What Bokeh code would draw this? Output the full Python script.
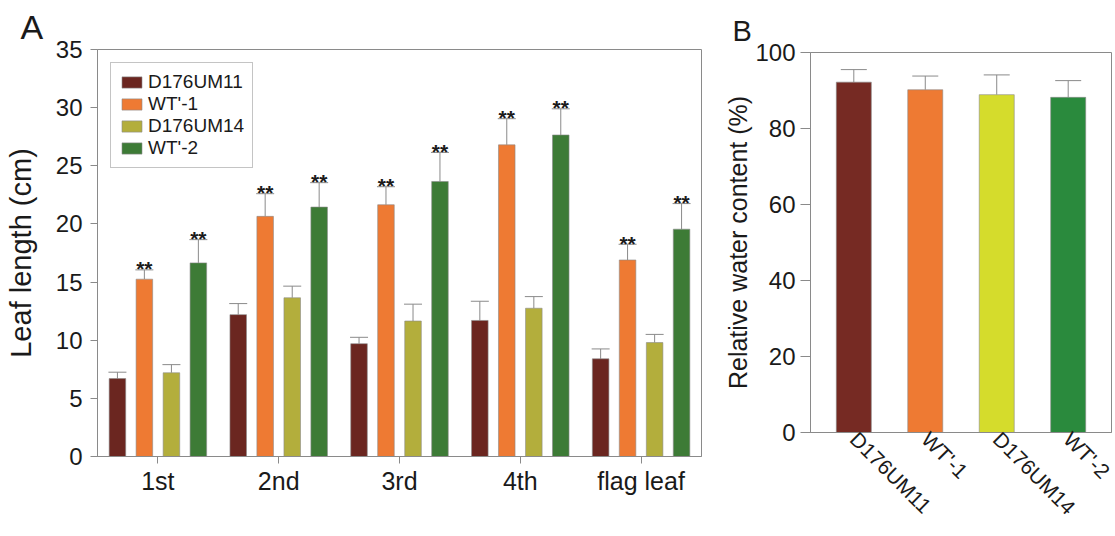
import math
from bokeh.plotting import figure
from bokeh.models import (FactorRange, Range1d, Whisker, TeeHead, Legend, LegendItem,
                          FixedTicker, ColumnDataSource)
from bokeh.transform import dodge
from bokeh.layouts import row
from bokeh.core.properties import value
from bokeh.embed import file_html
from bokeh.resources import INLINE

# ---------------- data ----------------
leaf_groups = ["1st", "2nd", "3rd", "4th", "flag leaf"]
series_names = ["D176UM11", "WT'-1", "D176UM14", "WT'-2"]

d176um11_mean = [6.7, 12.2, 9.7, 11.7, 8.4]
d176um11_sd = [0.55, 0.95, 0.55, 1.65, 0.85]
wt1_mean = [15.25, 20.65, 21.65, 26.8, 16.9]
wt1_sd = [0.8, 1.95, 1.55, 2.25, 1.35]
d176um14_mean = [7.2, 13.65, 11.65, 12.75, 9.8]
d176um14_sd = [0.7, 1.0, 1.45, 1.0, 0.7]
wt2_mean = [16.65, 21.45, 23.65, 27.65, 19.55]
wt2_sd = [2.0, 2.1, 2.5, 2.25, 2.2]
significance = ["", "**", "", "**"]

yticks_a = [0, 5, 10, 15, 20, 25, 30, 35]

rwc_genotypes = ["D176UM11", "WT'-1", "D176UM14", "WT'-2"]
rwc_mean = [92.2, 90.2, 88.9, 88.2]
rwc_sd = [3.3, 3.6, 5.2, 4.4]
yticks_b = [0, 20, 40, 60, 80, 100]

# ---------------- style ----------------
FONT = "Liberation Sans"
TXT = "#1a1a1a"
GRAY = "#8a8a8a"
colors_a = ["#6B2620", "#EE7A33", "#B3AE3C", "#3D7B36"]
colors_b = ["#762A23", "#EE7A33", "#D5DC2C", "#2A8A3D"]
offsets = [-0.335, -0.112, 0.112, 0.335]

# ---------------- panel A ----------------
pA = figure(x_range=FactorRange(factors=leaf_groups), y_range=Range1d(0, 35),
            width=706, height=530, output_backend="svg", toolbar_location=None,
            min_border_left=97, min_border_right=5, min_border_top=49, min_border_bottom=74,
            background_fill_color="white", border_fill_color="white", title="A")
pA.frame_align = False
pA.title.align = "left"
pA.title.offset = -77
pA.title.standoff = 7
pA.title.text_font = FONT
pA.title.text_font_size = "34px"
pA.title.text_font_style = "normal"
pA.title.text_color = TXT

means = [d176um11_mean, wt1_mean, d176um14_mean, wt2_mean]
sds = [d176um11_sd, wt1_sd, d176um14_sd, wt2_sd]
items = []
for i, name in enumerate(series_names):
    src = ColumnDataSource(dict(
        x=leaf_groups,
        top=means[i],
        upper=[m + s for m, s in zip(means[i], sds[i])],
        sig=[significance[i]] * len(leaf_groups),
    ))
    xs = dodge("x", offsets[i], range=pA.x_range)
    r = pA.vbar(x=xs, top="top", width=0.137, source=src,
                fill_color=colors_a[i], line_color=GRAY, line_width=0.6)
    w = Whisker(base=dodge("x", offsets[i], range=pA.x_range), upper="upper", lower="top",
                source=src, line_color=GRAY, line_width=1,
                upper_head=TeeHead(size=18, line_color=GRAY, line_width=1), lower_head=None)
    pA.add_layout(w)
    if significance[i]:
        pA.text(x=dodge("x", offsets[i], range=pA.x_range), y="upper", text="sig", source=src,
                text_font=value(FONT), text_font_size="21px", text_font_style="bold",
                text_align="center", text_baseline="alphabetic", y_offset=-1, text_color=TXT)
    items.append(LegendItem(label=name, renderers=[r]))

legend = Legend(items=items, location="top_left", margin=13, padding=8, spacing=0,
                glyph_width=25, glyph_height=14, label_standoff=4, label_height=20,
                label_text_font=FONT, label_text_font_size="19px", label_text_color=TXT,
                border_line_color=GRAY, border_line_width=1, background_fill_alpha=1)
pA.add_layout(legend)

pA.outline_line_color = GRAY
pA.xgrid.grid_line_color = None
pA.ygrid.grid_line_color = None
pA.yaxis.ticker = FixedTicker(ticks=yticks_a)
for ax in (pA.xaxis[0], pA.yaxis[0]):
    ax.axis_line_color = GRAY
    ax.major_tick_line_color = GRAY
    ax.minor_tick_line_color = None
    ax.major_tick_in = 0
    ax.major_tick_out = 7
    ax.major_label_text_font = FONT
    ax.major_label_text_color = TXT
pA.yaxis.major_label_text_font_size = "24px"
pA.yaxis.major_label_standoff = 8
pA.yaxis.axis_label = "Leaf length (cm)"
pA.yaxis.axis_label_text_font = FONT
pA.yaxis.axis_label_text_font_size = "29px"
pA.yaxis.axis_label_text_font_style = "normal"
pA.yaxis.axis_label_text_color = TXT
pA.yaxis.axis_label_standoff = 16
pA.xaxis.major_label_text_font_size = "25px"
pA.xaxis.major_label_standoff = 3

# ---------------- panel B ----------------
pB = figure(x_range=FactorRange(factors=rwc_genotypes, range_padding=0.106,
                                range_padding_units="absolute"),
            y_range=Range1d(0, 100),
            width=408, height=536, output_backend="svg", toolbar_location=None,
            min_border_left=104, min_border_right=3, min_border_top=52, min_border_bottom=104,
            background_fill_color="white", border_fill_color="white", title="B")
pB.frame_align = False
pB.title.align = "left"
pB.title.offset = -78
pB.title.standoff = 12
pB.title.text_font = FONT
pB.title.text_font_size = "29px"
pB.title.text_font_style = "normal"
pB.title.text_color = TXT

srcB = ColumnDataSource(dict(x=rwc_genotypes, top=rwc_mean,
                             upper=[m + s for m, s in zip(rwc_mean, rwc_sd)],
                             color=colors_b))
pB.vbar(x="x", top="top", width=0.49, source=srcB, fill_color="color",
        line_color=GRAY, line_width=0.6)
pB.add_layout(Whisker(base="x", upper="upper", lower="top", source=srcB,
                      line_color=GRAY, line_width=1,
                      upper_head=TeeHead(size=26, line_color=GRAY, line_width=1),
                      lower_head=None))

pB.outline_line_color = GRAY
pB.xgrid.grid_line_color = None
pB.ygrid.grid_line_color = None
pB.yaxis.ticker = FixedTicker(ticks=yticks_b)
for ax in (pB.xaxis[0], pB.yaxis[0]):
    ax.axis_line_color = GRAY
    ax.major_tick_line_color = GRAY
    ax.minor_tick_line_color = None
    ax.major_tick_in = 0
    ax.major_label_text_font = FONT
    ax.major_label_text_color = TXT
pB.yaxis.major_tick_out = 10
pB.yaxis.major_label_text_font_size = "24px"
pB.yaxis.major_label_standoff = 5
pB.yaxis.axis_label = "Relative water content (%)"
pB.yaxis.axis_label_text_font = FONT
pB.yaxis.axis_label_text_font_size = "25px"
pB.yaxis.axis_label_text_font_style = "normal"
pB.yaxis.axis_label_text_color = TXT
pB.yaxis.axis_label_standoff = 0
pB.xaxis.major_tick_out = 0
pB.xaxis.major_label_orientation = -math.pi / 4
pB.xaxis.major_label_text_font_size = "21px"
pB.xaxis.major_label_standoff = 3

layout = row(pA, pB)
open("out.html", "w").write(file_html(layout, INLINE))
